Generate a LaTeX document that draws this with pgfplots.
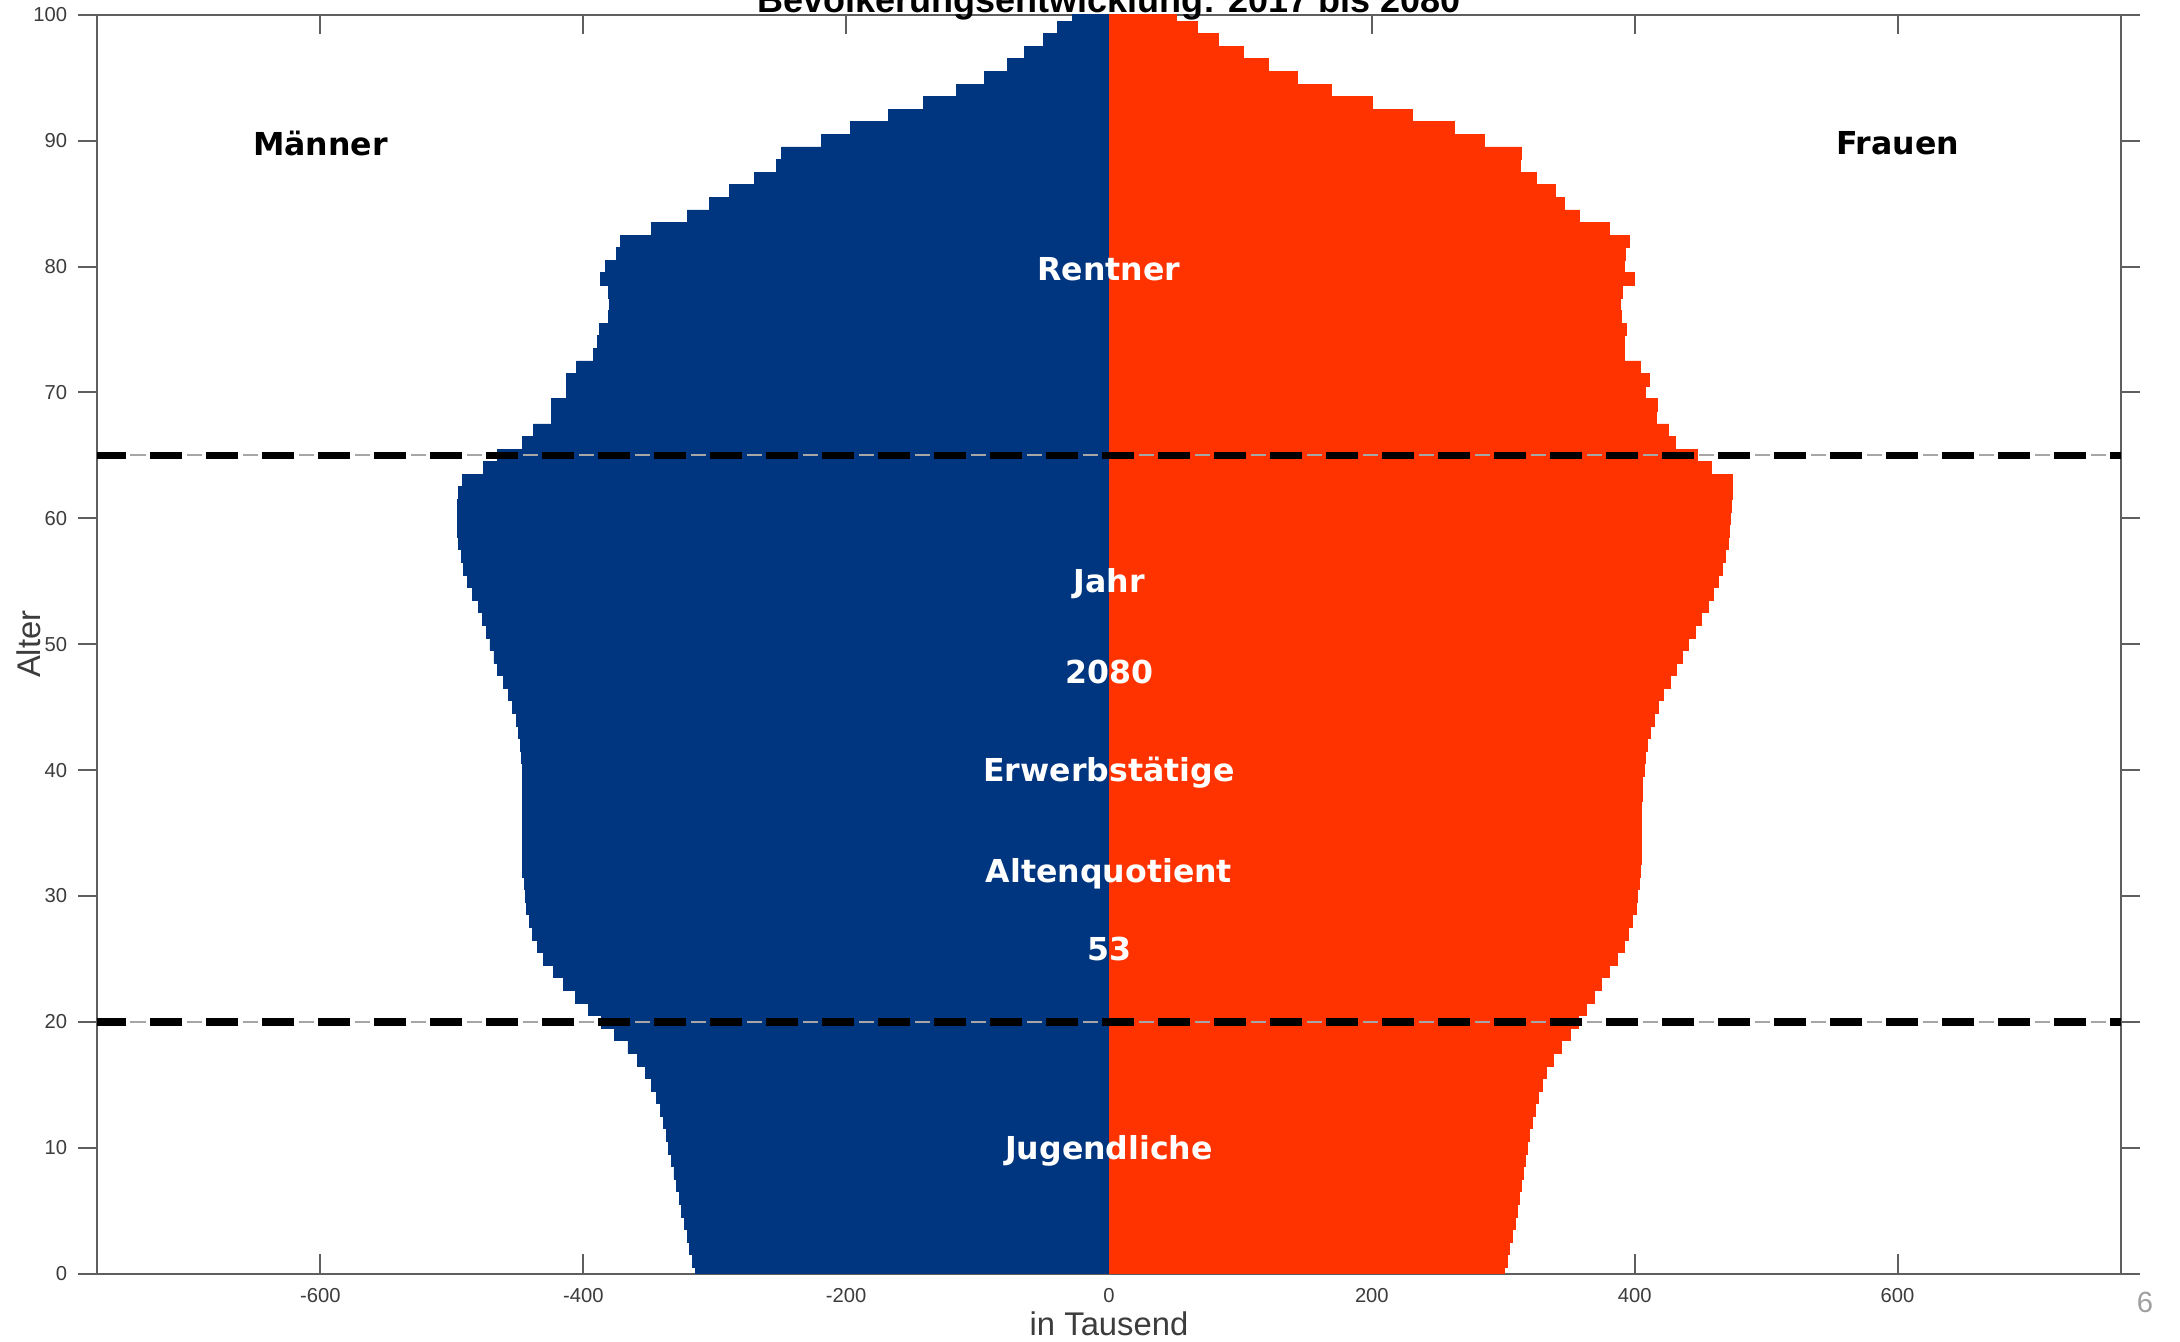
\documentclass[border=0pt]{standalone}
\usepackage{fontspec}
\setmainfont{Liberation Sans}
\newfontfamily\dvs{DejaVu Sans}
\usepackage{pgfplots}
\usepackage{pgfplotstable}
\pgfplotsset{compat=1.18}
\definecolor{mblue}{RGB}{0,53,128}
\definecolor{fred}{RGB}{255,51,0}
\definecolor{axgray}{RGB}{95,95,95}
\definecolor{txtgray}{RGB}{60,60,60}

\pgfplotstableread{
age m f
0 -315 301
1 -317 303
2 -319 305
3 -321 307
4 -323 309
5 -325 310.5
6 -327 312
7 -329 313.5
8 -331 315
9 -333 316.5
10 -335 318
11 -337 320
12 -339 322
13 -341 324.5
14 -344 327
15 -348 330
16 -353 333
17 -359 338
18 -366 344
19 -376 351
20 -386 357
21 -396 363
22 -406 369
23 -415 375
24 -423 381
25 -430 387
26 -435 392
27 -439 395
28 -441 398
29 -443 401
30 -444 402
31 -445 403.5
32 -446 404.5
33 -446 405
34 -446 405
35 -446 405
36 -446 405
37 -446 405
38 -446 405.5
39 -446 406
40 -446 407
41 -447 408
42 -448 410
43 -449 412
44 -451 415
45 -454 418
46 -457 422
47 -461 427
48 -465 432
49 -468 436
50 -471 441
51 -474 446
52 -477 451
53 -480 456
54 -484 460
55 -488 464
56 -491 467
57 -493 469
58 -495 471
59 -496 472
60 -496 473
61 -496 473.5
62 -495 474
63 -492 474
64 -476 458
65 -465 448
66 -446 431
67 -438 426
68 -424 416.5
69 -424 417
70 -413 408
71 -413 411
72 -405 404
73 -392 392.5
74 -389 392.5
75 -388 393.5
76 -381 390
77 -380 389
78 -381 391
79 -387 399.5
80 -383 392
81 -375 393
82 -372 396
83 -348 381
84 -321 358
85 -304 346.5
86 -289 339.5
87 -270 325
88 -253 313
89 -249 314
90 -219 285.5
91 -197 262.5
92 -168 230.5
93 -141 200.5
94 -116 169
95 -95 143
96 -77 121
97 -64 102
98 -50 83
99 -39 67
100 -28 51
}\pop

\begin{document}
\begin{tikzpicture}
\begin{axis}[name=ax, at={(0,0)}, anchor=south west,
  scale only axis, width=506pt, height=314.7pt,
  xmin=-770, xmax=770, ymin=0, ymax=100,
  xtick={-600,-400,-200,0,200,400,600},
  xticklabels={-600,-400,-200,0,200,400,600},
  ytick={0,10,20,30,40,50,60,70,80,90,100},
  yticklabels={0,10,20,30,40,50,60,70,80,90,100},
  tick align=inside, major tick length=4.8pt,
  axis line style={axgray, line width=0.5pt},
  every tick/.style={axgray, line width=0.5pt},
  tick label style={font=\fontsize{5.05}{6}\selectfont, text=txtgray},
  xticklabel style={inner sep=0pt, yshift=-3.6pt},
  yticklabel style={inner sep=0pt, xshift=-2.5pt},
  xlabel={in Tausend}, ylabel={Alter},
  label style={font=\fontsize{8.2}{9.5}\selectfont, text=txtgray},
  xlabel style={at={(axis description cs:0.5,0)}, anchor=base, yshift=-15.4pt, inner sep=0pt},
  ylabel style={at={(axis description cs:-0.0335,0.5)}, anchor=center, inner sep=0pt},
  xbar, bar width=1,
]
\addplot[xbar, bar shift=0pt, fill=mblue, draw=mblue, line width=0.2pt] table[x=m, y=age] {\pop};
\addplot[xbar, bar shift=0pt, fill=fred, draw=fred, line width=0.2pt] table[x=f, y=age] {\pop};
\addplot[sharp plot, no markers, color=gray!70, line width=0.5pt, dash pattern=on 3.75pt off 10.25pt, dash phase=5.625pt] coordinates {(-770,65) (770,65)};
\addplot[sharp plot, no markers, color=gray!70, line width=0.5pt, dash pattern=on 3.75pt off 10.25pt, dash phase=5.625pt] coordinates {(-770,20) (770,20)};
\addplot[sharp plot, no markers, color=black, line width=1.9pt, dash pattern=on 8pt off 6pt, dash phase=0.75pt] coordinates {(-770,65) (770,65)};
\addplot[sharp plot, no markers, color=black, line width=1.9pt, dash pattern=on 8pt off 6pt, dash phase=0.75pt] coordinates {(-770,20) (770,20)};
\begin{scope}[every node/.style={font=\dvs\bfseries\fontsize{7.9}{9}\selectfont, yshift=-0.7pt}]
\node[text=black] at (axis cs:-600,90) {Männer};
\node[text=black] at (axis cs:600,90) {Frauen};
\node[text=white] at (axis cs:0,80) {Rentner};
\node[text=white] at (axis cs:0,55) {Jahr};
\node[text=white] at (axis cs:0,48) {2080};
\node[text=white] at (axis cs:0,40) {Erwerbstätige};
\node[text=white] at (axis cs:0,32) {Altenquotient};
\node[text=white] at (axis cs:0,26) {53};
\node[text=white] at (axis cs:0,10) {Jugendliche};
\end{scope}
\end{axis}
\node[text=gray!75, font=\fontsize{7.3}{8}\selectfont, inner sep=0pt] at ([xshift=6pt, yshift=-7.1pt]ax.south east) {6};
\begin{scope}
\clip ([xshift=-24.25pt, yshift=-16.9pt]ax.south west) rectangle ([xshift=14.75pt, yshift=3.7pt]ax.north east);
\node[anchor=base, inner sep=0pt, font=\bfseries\fontsize{9}{10}\selectfont] at ([yshift=0.7pt]ax.north) {Bevölkerungsentwicklung: 2017 bis 2080};
\end{scope}
\pgfresetboundingbox
\path[use as bounding box] ([xshift=-24.25pt, yshift=-16.9pt]ax.south west) rectangle ([xshift=14.75pt, yshift=3.7pt]ax.north east);
\end{tikzpicture}
\end{document}
